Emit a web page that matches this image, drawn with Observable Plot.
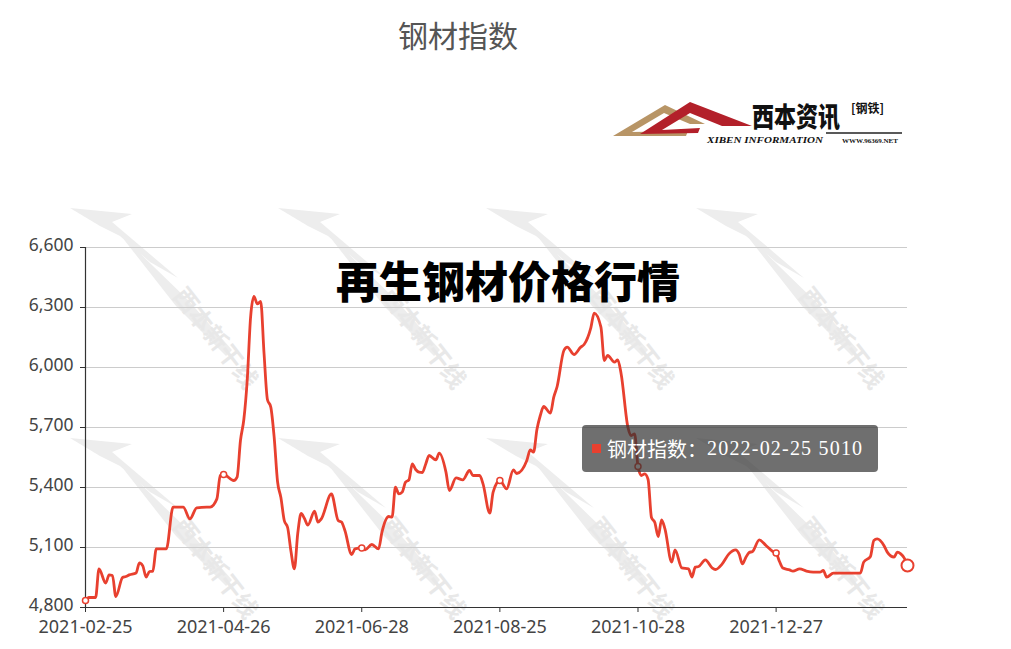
<!DOCTYPE html>
<html>
<head>
<meta charset="utf-8">
<script src="https://cdn.jsdelivr.net/npm/d3@7"></script>
<script src="https://cdn.jsdelivr.net/npm/@observablehq/plot@0.6"></script>
<style>
  body { margin: 0; background: #fff; }
  #wrap { position: relative; width: 1011px; height: 649px; overflow: hidden; font-family: "Noto Sans", "Noto Sans CJK SC", sans-serif; }
  .abs { position: absolute; left: 0; top: 0; }
  #title { position: absolute; left: 0; width: 916px; top: 12px; text-align: center; font-family: "Noto Sans CJK SC", sans-serif; font-size: 30px; color: #555; }
  #big { position: absolute; left: 0; width: 1016px; top: 258px; text-align: center; font-family: "Noto Sans CJK SC", sans-serif; font-weight: 900; font-size: 43px; color: #000; line-height: 1; }
  #tip { position: absolute; left: 582px; top: 425px; width: 296px; height: 47px; border-radius: 4px; background: rgba(50,50,50,0.7); color: #fff; box-sizing: border-box; padding-left: 10px; display: flex; align-items: center; white-space: nowrap; }
  #tip .sq { display: inline-block; width: 9px; height: 9px; background: #e8402f; margin-right: 6px; }
  #tip .zh { font-family: "Noto Sans CJK SC", sans-serif; font-size: 20px; }
  #tip .num { font-family: "Liberation Serif", serif; font-size: 20px; letter-spacing: 1.2px; }
</style>
</head>
<body>
<div id="wrap">
  <svg id="wm" class="abs" width="1011" height="649"></svg>
  <div id="chart" class="abs"></div>
  <div id="title">钢材指数</div>
  <svg id="logo" class="abs" width="1011" height="649"></svg>
  <div id="big">再生钢材价格行情</div>
  <div id="tip"><span class="sq"></span><span class="zh">钢材指数：</span><span class="num">2022-02-25 5010</span></div>
</div>
<script>
// ---- data (index of trading day from 2021-02-25, index value) ----
const dayIndex = [0,1,3,4,6,7,8,9,11,12,13,15,16,17,18,19,20,21,24,26,29,31,33,36,37,39,40,41,44,45,46,47,48,49,50,51,52,53,54,55,56,57,58,59,60,61,62,63,64,65,66,68,69,70,73,75,76,77,79,80,82,83,85,87,88,90,91,92,93,94,95,96,97,98,99,100,101,102,104,105,107,108,110,112,114,115,117,118,120,121,123,125,127,128,131,132,133,134,135,136,138,139,140,142,143,145,147,148,150,151,153,154,155,157,158,159,161,162,163,164,165,166,167,168,169,170,171,172,174,175,177,179,180,181,182,184,186,187,189,191,193,194,195,196,197,198,200,202,204,205,206,207,209,210,212,214,216,218,219,220,222,230,231,233,234,235,237,238,240,241,242,243,244];
const indexValue = [4835,4850,4850,4993,4922,4963,4960,4855,4950,4955,4963,4972,5023,5008,4952,4980,4982,5093,5093,5302,5302,5243,5298,5302,5302,5343,5460,5465,5435,5452,5635,5740,5935,6250,6355,6318,6330,6070,5840,5802,5652,5430,5350,5235,5200,5080,4993,5170,5270,5245,5212,5282,5227,5243,5368,5235,5227,5185,5065,5093,5098,5088,5115,5093,5177,5255,5252,5402,5368,5377,5427,5438,5518,5490,5477,5475,5518,5560,5538,5572,5477,5385,5448,5438,5485,5460,5460,5418,5272,5377,5435,5393,5488,5470,5535,5588,5577,5690,5760,5805,5772,5852,5905,6085,6102,6065,6102,6115,6198,6272,6202,6035,6060,6027,6038,5968,5702,5660,5668,5505,5460,5468,5440,5250,5225,5155,5238,5193,5027,5088,4998,4993,4952,5002,5005,5038,4998,4990,5018,5068,5088,5068,5018,5050,5075,5080,5138,5110,5080,5072,5030,4997,4988,4982,4993,4982,4977,4977,4985,4952,4972,4972,5027,5055,5135,5143,5110,5077,5052,5077,5068,5048,5010];
const lastIndex = 244;
const xTickIndex = [0, 41, 82, 123, 164, 205];
const xTickLabels = ["2021-02-25", "2021-04-26", "2021-06-28", "2021-08-25", "2021-10-28", "2021-12-27"];
const yTicks = [4800, 5100, 5400, 5700, 6000, 6300, 6600];
const seriesName = "钢材指数";

const RED = "#e8402f";
const data = dayIndex.map((d, k) => ({i: d, v: indexValue[k]}));
const markers = data.filter(d => xTickIndex.includes(d.i));
const hovered = data.filter(d => d.i === lastIndex);
const fmt = d3.format(",");

const chart = Plot.plot({
  width: 1011,
  height: 649,
  marginLeft: 85,
  marginRight: 104,
  marginTop: 247,
  marginBottom: 42,
  style: {background: "transparent", color: "#444", fontSize: "18px", fontFamily: "'Noto Sans', sans-serif", overflow: "visible"},
  x: {domain: [0, lastIndex], label: null},
  y: {domain: [4800, 6600], label: null},
  marks: [
    Plot.gridY(yTicks, {stroke: "#cccccc", strokeOpacity: 1, strokeWidth: 1}),
    Plot.axisY(yTicks, {tickSize: 5, text: null, stroke: "#333"}),
    Plot.axisY(yTicks, {tickSize: 0, tickPadding: 12, tickFormat: fmt, fill: "#444", fontSize: 17.5, dy: -2}),
    Plot.axisX(xTickIndex, {tickSize: 5, tickPadding: 8, tickFormat: (d) => xTickLabels[xTickIndex.indexOf(d)], stroke: "#333", fill: "#444", fontSize: 18}),
    Plot.ruleX([0], {stroke: "#333", strokeWidth: 1.2}),
    Plot.ruleY([4800], {stroke: "#333", strokeWidth: 1.2}),
    Plot.line(data, {x: "i", y: "v", stroke: RED, strokeWidth: 2.8, curve: "monotone-x"}),
    Plot.dot(markers, {x: "i", y: "v", r: 3, fill: "#fff", stroke: RED, strokeWidth: 1.5}),
    Plot.dot(hovered, {x: "i", y: "v", r: 6, fill: "#fff", stroke: RED, strokeWidth: 2})
  ]
});
document.getElementById("chart").appendChild(chart);

// ---- watermark (faint) ----
const NS = "http://www.w3.org/2000/svg";
const wm = document.getElementById("wm");
const wmCols = [0, 208, 416, 626];
const wmRows = [0, 230];
for (const cx of wmCols) for (const ry of wmRows) {
  const g = document.createElementNS(NS, "g");
  g.setAttribute("transform", `translate(${cx},${ry})`);
  const p = document.createElementNS(NS, "path");
  p.setAttribute("d", "M70,208 L132,214 L112,222 L178,278 L150,262 L120,236 L100,226 Z M118,232 L188,300 L232,350 L226,356 L176,306 Z");
  p.setAttribute("fill", "#ededed");
  g.appendChild(p);
  const t = document.createElementNS(NS, "text");
  t.setAttribute("transform", "translate(172,296) rotate(52)");
  t.setAttribute("font-family", "Noto Sans CJK SC");
  t.setAttribute("font-weight", "700");
  t.setAttribute("font-size", "24");
  t.setAttribute("fill", "#e8e8e8");
  t.textContent = "西本新干线";
  g.appendChild(t);
  wm.appendChild(g);
}

// ---- logo ----
const logo = document.getElementById("logo");
logo.innerHTML = `
  <polygon points="613,136 665,105 705,124 690,124 664,113 632,132 688,131 686,136" fill="#b89566"/>
  <polygon points="640,134 690,102 752,126 722,126 690,113 662,130 700,128 698,133" fill="#b3202a"/>
  <text transform="translate(752,127) scale(1,1.2)" font-family="Noto Sans CJK SC" font-weight="900" font-size="23" fill="#111" textLength="88" lengthAdjust="spacingAndGlyphs">西本资讯</text>
  <text x="851" y="113" font-family="Noto Sans CJK SC" font-weight="700" font-size="12" fill="#111">[钢铁]</text>
  <line x1="826" y1="133" x2="902" y2="133" stroke="#222" stroke-width="1.4"/>
  <text x="707" y="143" font-family="Liberation Serif" font-style="italic" font-weight="700" font-size="9" fill="#111" textLength="116" lengthAdjust="spacingAndGlyphs">XIBEN INFORMATION</text>
  <text x="842" y="143" font-family="Liberation Serif" font-weight="700" font-size="6.5" fill="#111" textLength="56" lengthAdjust="spacingAndGlyphs">WWW.96369.NET</text>
`;
</script>
</body>
</html>
